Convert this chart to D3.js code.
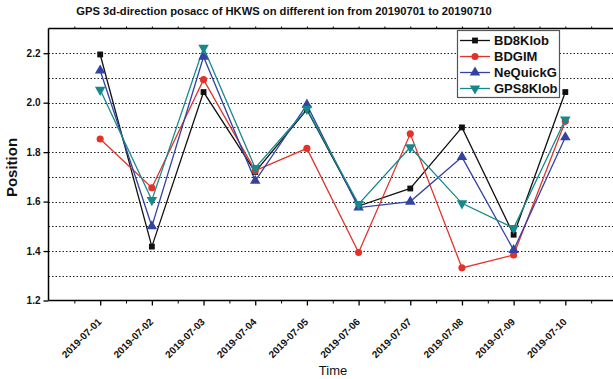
<!DOCTYPE html>
<head>
    <meta charset="utf-8">
    <title>GPS 3d-direction posacc</title>
    <style>
        body { margin: 0; background: #fff; }
        text { font-family: "Liberation Sans", Arial, sans-serif; }
    </style>
</head>
<body>

<svg width="613" height="379"></svg>

<script src="https://d3js.org/d3.v7.min.js"></script>

<script>

// data
var dates = ['2019-07-01', '2019-07-02', '2019-07-03', '2019-07-04', '2019-07-05',
             '2019-07-06', '2019-07-07', '2019-07-08', '2019-07-09', '2019-07-10'];
var bd8klob  = [2.195, 1.418, 2.043, 1.720, 1.972, 1.582, 1.653, 1.900, 1.466, 2.043];
var bdgim    = [1.853, 1.656, 2.093, 1.725, 1.815, 1.394, 1.874, 1.332, 1.384, 1.925];
var nequickg = [2.130, 1.500, 2.186, 1.684, 1.992, 1.576, 1.600, 1.780, 1.404, 1.860];
var gps8klob = [2.052, 1.606, 2.222, 1.736, 1.975, 1.590, 1.820, 1.593, 1.493, 1.932];
var yTicks = [1.2, 1.4, 1.6, 1.8, 2.0, 2.2];

var series = [
    { name: 'BD8Klob',  values: bd8klob,  color: '#111111', marker: 'square' },
    { name: 'BDGIM',    values: bdgim,    color: '#e3322a', marker: 'circle' },
    { name: 'NeQuickG', values: nequickg, color: '#3343a3', marker: 'triangle' },
    { name: 'GPS8Klob', values: gps8klob, color: '#16898a', marker: 'down' }
];

var svg = d3.select('svg');

var mLeft = 48.5, mRight = 617, mTop = 28.5, mBottom = 300.5;

// day index 1..10, axis runs 0..11 (cut off at the right edge)
var x = d3.scaleLinear().domain([0, 11]).range([mLeft, mRight]);
var y = d3.scaleLinear().domain([1.2, 2.3]).range([mBottom, mTop]);

// dotted grid every 0.1
var grid = d3.range(13, 23).map(d => d / 10);
svg.append('g')
    .selectAll('line')
    .data(grid)
    .enter().append('line')
        .attr('x1', mLeft)
        .attr('x2', mRight)
        .attr('y1', d => Math.round(y(d)) + 0.5)
        .attr('y2', d => Math.round(y(d)) + 0.5)
        .attr('stroke', '#222')
        .attr('stroke-width', 1)
        .attr('stroke-dasharray', '1.5,2');

// x axis with major + minor ticks
var xAxis = svg.append('g')
    .attr('transform', `translate(0,${mBottom})`)
    .call(d3.axisBottom(x)
        .tickValues(d3.range(1, 11))
        .tickSize(5)
        .tickFormat(''));
xAxis.select('.domain').attr('stroke-width', 1.5).attr('d', `M${mLeft},0H${mRight}`);
xAxis.selectAll('.tick line').attr('stroke-width', 1.3);

svg.append('g')
    .attr('transform', `translate(0,${mBottom})`)
    .call(d3.axisBottom(x)
        .tickValues(d3.range(0.5, 11, 1))
        .tickSize(3)
        .tickFormat(''))
    .call(g => g.select('.domain').remove());

// top frame with tiny ticks
var topAxis = svg.append('g')
    .attr('transform', `translate(0,${mTop})`)
    .call(d3.axisTop(x)
        .tickValues(d3.range(0.5, 11, 0.5))
        .tickSize(2)
        .tickFormat(''));
topAxis.select('.domain').attr('stroke-width', 1.5).attr('d', `M${mLeft},0H${mRight}`);

// rotated date labels
svg.append('g')
    .selectAll('text')
    .data(dates)
    .enter().append('text')
        .attr('transform', (d, i) => `translate(${x(i + 1) + 2},${mBottom + 22}) rotate(-45)`)
        .attr('text-anchor', 'end')
        .attr('font-size', 10)
        .attr('font-weight', 'bold')
        .attr('fill', '#111')
        .text(d => d);

// y axis
var yAxis = svg.append('g')
    .attr('transform', `translate(${mLeft},0)`)
    .call(d3.axisLeft(y)
        .tickValues(yTicks)
        .tickSize(5)
        .tickPadding(3)
        .tickFormat(d3.format('.1f')));
yAxis.select('.domain').attr('stroke-width', 1.5).attr('d', `M0,${mBottom}V${mTop}`);
yAxis.selectAll('.tick line').attr('stroke-width', 1.3);
yAxis.selectAll('text')
    .attr('font-size', 10)
    .attr('font-weight', 'bold')
    .attr('fill', '#111');

// lines
var line = d3.line()
    .x((d, i) => x(i + 1))
    .y(d => y(d));

var sym = {
    square: d3.symbol().type(d3.symbolSquare).size(34),
    circle: d3.symbol().type(d3.symbolCircle).size(40),
    triangle: d3.symbol().type(d3.symbolTriangle).size(48),
    down: d3.symbol().type(d3.symbolTriangle).size(48)
};

var lines = svg.append('g');
series.forEach(s => {
    lines.append('path')
        .attr('d', line(s.values))
        .attr('fill', 'none')
        .attr('stroke', s.color)
        .attr('stroke-width', 1.3);
});
series.forEach(s => {
    lines.append('g')
        .selectAll('path')
        .data(s.values)
        .enter().append('path')
            .attr('d', sym[s.marker]())
            .attr('transform', (d, i) => `translate(${x(i + 1)},${y(d)})` + (s.marker == 'down' ? ' rotate(180)' : ''))
            .attr('fill', s.color);
});

// legend
var legend = svg.append('g').attr('transform', 'translate(457,30)');
legend.append('rect')
    .attr('x', 0.5)
    .attr('y', 0.5)
    .attr('width', 102)
    .attr('height', 67)
    .attr('fill', '#fff')
    .attr('stroke', '#555')
    .attr('stroke-width', 1.2);

var item = legend.selectAll('.item')
    .data(series)
    .enter().append('g')
        .attr('class', 'item')
        .attr('transform', (d, i) => `translate(0,${10.5 + i * 16})`);
item.append('line')
    .attr('x1', 3).attr('x2', 33)
    .attr('stroke', d => d.color)
    .attr('stroke-width', 1.3);
item.append('path')
    .attr('d', d => sym[d.marker]())
    .attr('transform', d => 'translate(18,0)' + (d.marker == 'down' ? ' rotate(180)' : ''))
    .attr('fill', d => d.color);
item.append('text')
    .attr('x', 37)
    .attr('dy', '0.36em')
    .attr('font-size', 13)
    .attr('font-weight', 'bold')
    .attr('fill', '#111')
    .text(d => d.name);

// titles
svg.append('text')
    .attr('x', 284)
    .attr('y', 15)
    .attr('text-anchor', 'middle')
    .attr('font-size', 11.2)
    .attr('font-weight', 'bold')
    .attr('fill', '#111')
    .text('GPS 3d-direction posacc of HKWS on different ion from 20190701 to 20190710');

svg.append('text')
    .attr('transform', `translate(17,${(mTop + mBottom) / 2 + 3}) rotate(-90)`)
    .attr('text-anchor', 'middle')
    .attr('font-size', 15)
    .attr('font-weight', 'bold')
    .attr('fill', '#111')
    .text('Position');

svg.append('text')
    .attr('x', 333)
    .attr('y', 375)
    .attr('text-anchor', 'middle')
    .attr('font-size', 13)
    .attr('fill', '#111')
    .text('Time');

</script>

</body>
